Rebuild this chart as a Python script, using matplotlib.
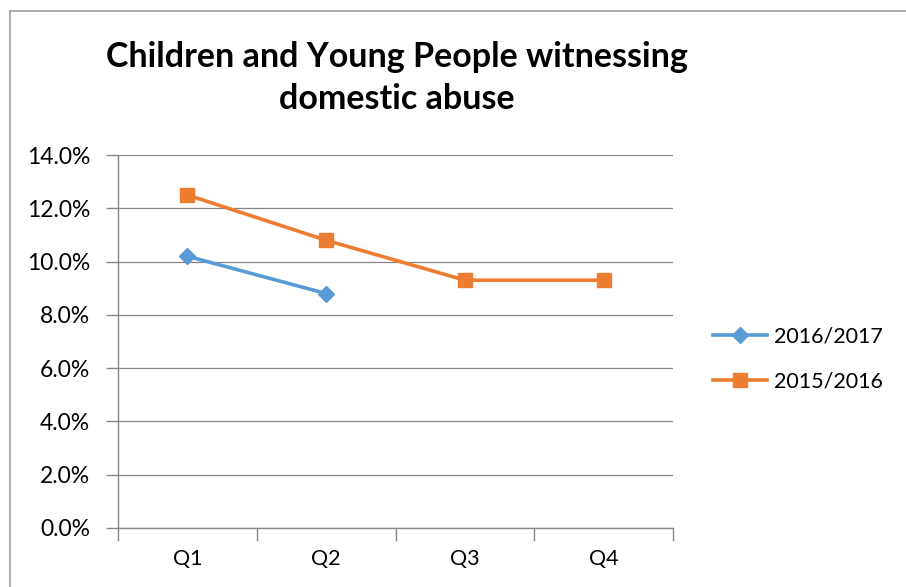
import matplotlib
matplotlib.use("Agg")
import matplotlib.pyplot as plt
from matplotlib.lines import Line2D
from matplotlib.ticker import FuncFormatter, FixedLocator

plt.rcParams['font.family'] = ['Lato', 'DejaVu Sans']

quarters = ['Q1', 'Q2', 'Q3', 'Q4']
s_2016_17 = [10.2, 8.8, None, None]
s_2015_16 = [12.5, 10.8, 9.3, 9.3]
y_ticks = [0, 2, 4, 6, 8, 10, 12, 14]

blue = '#5B9BD5'
orange = '#ED7D31'
grey = '#868686'

fig = plt.figure(figsize=(9.06, 5.87), dpi=100)
ax = fig.add_axes([118 / 906, 1 - 528 / 587, 555 / 906, 373 / 587])

x = list(range(len(quarters)))
x1 = [i for i, v in zip(x, s_2016_17) if v is not None]
v1 = [v for v in s_2016_17 if v is not None]
ax.plot(x1, v1, color=blue, lw=2.6, marker='D', ms=8.5, label='2016/2017', zorder=3)
ax.plot(x, s_2015_16, color=orange, lw=2.6, marker='s', ms=9.5, label='2015/2016', zorder=3)

ax.set_xlim(-0.5, 3.5)
ax.set_ylim(0, 14)
ax.set_yticks(y_ticks)
ax.yaxis.set_major_formatter(FuncFormatter(lambda v, p: f'{v:.1f}%'))
ax.set_xticks(x)
ax.set_xticklabels(quarters)
ax.xaxis.set_minor_locator(FixedLocator([-0.5, 0.5, 1.5, 2.5, 3.5]))
ax.tick_params(axis='x', which='major', length=0, pad=15, labelsize=15.5)
ax.tick_params(axis='x', which='minor', length=9, width=1, color=grey, direction='out')
ax.tick_params(axis='y', length=9, width=1, color=grey, direction='out', pad=11, labelsize=16.5)

ax.grid(axis='y', color=grey, lw=0.9)
ax.set_axisbelow(True)
for s in ['top', 'right']:
    ax.spines[s].set_visible(False)
for s in ['left', 'bottom']:
    ax.spines[s].set_color(grey)
    ax.spines[s].set_linewidth(1)

fig.text(397 / 906, 1 - 78 / 587, 'Children and Young People witnessing\ndomestic abuse',
         ha='center', va='center', fontsize=24.5, fontweight='bold', linespacing=1.4)

ax.legend(loc='center left', bbox_to_anchor=(694 / 906, 1 - 359 / 587),
          bbox_transform=fig.transFigure, frameon=False, fontsize=15.5,
          handlelength=2.5, handletextpad=0.3, labelspacing=1.15)

# chart border (partly cropped)
fig.add_artist(Line2D([9.5 / 906, 1.0], [1 - 10.5 / 587] * 2, color='#A0A0A0', lw=1.2,
                      transform=fig.transFigure))
fig.add_artist(Line2D([9.5 / 906] * 2, [0, 1 - 10.5 / 587], color='#A0A0A0', lw=1.2,
                      transform=fig.transFigure))

fig.savefig('out.png', dpi=100)
